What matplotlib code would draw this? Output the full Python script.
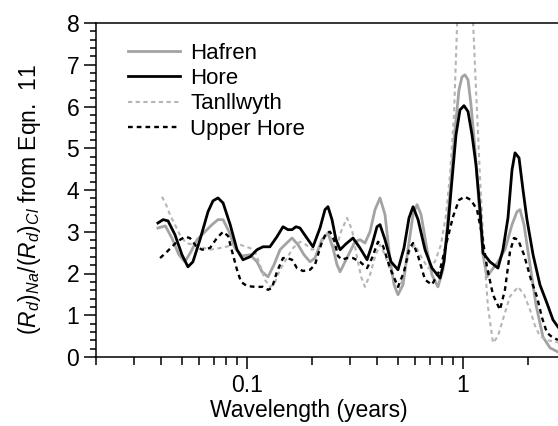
import matplotlib
matplotlib.use("Agg")
import matplotlib.pyplot as plt
from matplotlib.ticker import FixedLocator, NullFormatter

plt.rcParams['font.family'] = ['Liberation Sans', 'DejaVu Sans']
plt.rcParams['mathtext.fontset'] = 'custom'
plt.rcParams['mathtext.rm'] = 'Liberation Sans'
plt.rcParams['mathtext.it'] = 'Liberation Sans:italic'

# ---- data ----
hore_x = [0.0387, 0.0409, 0.0431, 0.0464, 0.0500, 0.0533, 0.0562, 0.0606, 0.0660, 0.0696,
          0.0734, 0.0775, 0.0836, 0.0899, 0.0958, 0.1033, 0.1113, 0.1186, 0.1277, 0.1376,
          0.1468, 0.1548, 0.1616, 0.1686, 0.1759, 0.1876, 0.2021, 0.2178, 0.2297, 0.2371,
          0.2475, 0.2582, 0.2698, 0.2873, 0.3096, 0.3336, 0.3597, 0.3793, 0.3998, 0.4128,
          0.4355, 0.4645, 0.5001, 0.5330, 0.5623, 0.5872, 0.6194, 0.6671, 0.7182, 0.7830,
          0.8167, 0.8528, 0.8892, 0.9282, 0.9685, 1.0106, 1.055, 1.101, 1.149, 1.199,
          1.238, 1.334, 1.452, 1.531, 1.615, 1.686, 1.741, 1.817, 1.896, 1.978,
          2.110, 2.271, 2.447, 2.610, 2.753]
hore_y = [3.21, 3.29, 3.26, 2.93, 2.45, 2.16, 2.28, 2.81, 3.48, 3.74,
          3.81, 3.69, 3.17, 2.57, 2.33, 2.40, 2.57, 2.64, 2.64, 2.88,
          3.12, 3.05, 3.05, 3.12, 3.09, 2.88, 2.64, 3.09, 3.53, 3.60,
          3.29, 2.81, 2.57, 2.71, 2.85, 2.61, 2.33, 2.69, 3.12, 3.17,
          2.81, 2.28, 2.09, 2.61, 3.33, 3.60, 3.29, 2.57, 2.13, 1.89,
          2.28, 3.17, 4.24, 5.32, 5.92, 6.02, 5.88, 5.32, 4.60, 3.53,
          2.49, 2.28, 2.13, 2.57, 3.33, 4.48, 4.89, 4.77, 4.00, 3.29,
          2.45, 1.73, 1.29, 0.89, 0.72]

hafren_x = [0.0387, 0.0419, 0.0449, 0.0484, 0.0516, 0.0550, 0.0587, 0.0639, 0.0689, 0.0734,
            0.0775, 0.0826, 0.0880, 0.0948, 0.1033, 0.1113, 0.1174, 0.1251, 0.1334, 0.1422,
            0.1500, 0.1616, 0.1722, 0.1836, 0.1958, 0.2064, 0.2224, 0.2371, 0.2501, 0.2611,
            0.2698, 0.2843, 0.2998, 0.3162, 0.3336, 0.3516, 0.3711, 0.3915, 0.4128, 0.4355,
            0.4594, 0.4797, 0.5001, 0.5275, 0.5561, 0.5872, 0.6125, 0.6396, 0.6813, 0.7182,
            0.7656, 0.8076, 0.8432, 0.8799, 0.9182, 0.9583, 0.9894, 1.021, 1.055, 1.089,
            1.137, 1.186, 1.238, 1.291, 1.362, 1.452, 1.564, 1.686, 1.778, 1.836,
            1.916, 2.043, 2.177, 2.345, 2.528, 2.753]
hafren_y = [3.09, 3.14, 2.85, 2.45, 2.28, 2.52, 2.81, 3.00, 3.17, 3.29,
            3.29, 3.00, 2.61, 2.42, 2.45, 2.28, 2.04, 1.92, 2.21, 2.57,
            2.69, 2.85, 2.69, 2.45, 2.28, 2.37, 2.81, 2.97, 2.61, 2.21,
            2.04, 2.28, 2.52, 2.76, 2.81, 2.73, 3.00, 3.53, 3.81, 3.41,
            2.33, 1.73, 1.49, 1.73, 2.57, 3.41, 3.65, 3.41, 2.57, 1.97,
            1.68, 2.09, 3.05, 4.24, 5.44, 6.40, 6.71, 6.76, 6.64, 6.04,
            4.96, 3.65, 2.45, 1.92, 2.09, 2.28, 2.57, 3.17, 3.48, 3.53,
            3.17, 2.21, 1.25, 0.48, 0.22, 0.12]

tan_x = [0.0404, 0.0422, 0.0440, 0.0464, 0.0489, 0.0522, 0.0562, 0.0606, 0.0674, 0.0750,
         0.0834, 0.0928, 0.1033, 0.1089, 0.1148, 0.1211, 0.1277, 0.1334, 0.1422, 0.1532,
         0.1633, 0.1759, 0.1876, 0.1999, 0.2133, 0.2272, 0.2371, 0.2475, 0.2582, 0.2723,
         0.2904, 0.3062, 0.3229, 0.3374, 0.3516, 0.3711, 0.3915, 0.4128, 0.4355, 0.4594,
         0.4844, 0.5106, 0.5385, 0.5684, 0.5997, 0.6324, 0.6887, 0.7413, 0.7910, 0.8345,
         0.8707, 0.9085, 0.9481, 0.9894, 1.021, 1.055, 1.101, 1.149, 1.199, 1.251,
         1.305, 1.377, 1.452, 1.531, 1.650, 1.798, 1.916, 2.043, 2.154, 2.271,
         2.475, 2.753]
tan_y = [3.84, 3.65, 3.41, 3.17, 2.93, 2.73, 2.69, 2.64, 2.57, 2.61,
         2.66, 2.69, 2.61, 2.52, 2.21, 1.85, 1.68, 1.73, 2.09, 2.37,
         2.61, 2.76, 2.69, 2.57, 2.61, 2.85, 2.97, 2.81, 2.57, 3.00,
         3.33, 3.05, 2.40, 1.92, 1.68, 1.97, 2.40, 2.69, 2.45, 2.09,
         1.80, 1.65, 2.09, 2.57, 2.69, 2.45, 2.13, 2.28, 2.69, 3.41,
         4.36, 5.80, 8.60, 10.2, 10.6, 10.2, 8.60, 6.40, 4.30, 2.50,
         1.20, 0.34, 0.50, 0.90, 1.45, 1.68, 1.50, 1.13, 0.75, 0.50,
         0.40, 0.35]

upper_x = [0.0396, 0.0426, 0.0474, 0.0516, 0.0544, 0.0581, 0.0619, 0.0674, 0.0726, 0.0775,
           0.0817, 0.0861, 0.0899, 0.0938, 0.1000, 0.1089, 0.1186, 0.1251, 0.1305, 0.1376,
           0.1468, 0.1532, 0.1616, 0.1703, 0.1816, 0.1958, 0.2064, 0.2202, 0.2322, 0.2423,
           0.2528, 0.2637, 0.2753, 0.2904, 0.3096, 0.3336, 0.3597, 0.3793, 0.4041, 0.4262,
           0.4594, 0.5001, 0.5330, 0.5623, 0.5872, 0.6194, 0.6671, 0.7182, 0.7830, 0.8345,
           0.8990, 0.9583, 1.021, 1.089, 1.161, 1.224, 1.291, 1.377, 1.483, 1.564,
           1.650, 1.722, 1.798, 1.916, 2.065, 2.201, 2.322, 2.447, 2.610, 2.753]
upper_y = [2.37, 2.52, 2.76, 2.88, 2.85, 2.66, 2.57, 2.61, 2.85, 3.00,
           2.90, 2.45, 2.09, 1.80, 1.70, 1.68, 1.68, 1.61, 1.65, 2.04,
           2.37, 2.37, 2.33, 2.13, 2.06, 2.09, 2.21, 2.69, 2.97, 3.00,
           2.81, 2.42, 2.33, 2.37, 2.37, 2.28, 2.13, 2.37, 2.76, 2.66,
           2.13, 1.68, 2.04, 2.57, 2.73, 2.42, 1.85, 1.73, 2.09, 2.69,
           3.36, 3.76, 3.84, 3.76, 3.53, 2.93, 2.16, 1.49, 1.13, 1.61,
           2.52, 2.85, 2.81, 2.45, 1.85, 1.44, 0.94, 0.58, 0.46, 0.41]

labels = ["Hafren", "Hore", "Tanllwyth", "Upper Hore"]
x_major = [0.1, 1]
x_major_labels = ["0.1", "1"]
x_minor = [0.02, 0.03, 0.04, 0.05, 0.06, 0.07, 0.08, 0.09,
           0.2, 0.3, 0.4, 0.5, 0.6, 0.7, 0.8, 0.9, 2]

# ---- figure ----
fig = plt.figure(figsize=(5.58, 4.26), dpi=100)
ax = fig.add_axes([96/558, 69/426, 1 - 96/558, 334/426])

grey = "#a3a3a3"
lgrey = "#b5b5b5"
dash = (0, (2.0, 1.7))

ax.plot(hafren_x, hafren_y, color=grey, lw=2.0, label=labels[0], zorder=2,
        solid_joinstyle="round")
ax.plot(tan_x, tan_y, color=lgrey, lw=1.5, ls=dash, label=labels[2], zorder=2)
ax.plot(upper_x, upper_y, color="black", lw=1.7, ls=dash, label=labels[3], zorder=3)
ax.plot(hore_x, hore_y, color="black", lw=2.0, label=labels[1], zorder=4,
        solid_joinstyle="round")

ax.set_xscale("log")
ax.set_xlim(0.02, 2.753)
ax.set_ylim(0, 8)

ax.xaxis.set_major_locator(FixedLocator(x_major))
ax.set_xticklabels(x_major_labels)
ax.xaxis.set_minor_locator(FixedLocator(x_minor))
ax.xaxis.set_minor_formatter(NullFormatter())
ax.set_yticks(range(0, 9))
ax.set_yticks([i * 0.2 for i in range(41)], minor=True)

for s in ["left", "bottom", "top"]:
    ax.spines[s].set_linewidth(1.1)
ax.spines["right"].set_visible(False)

ax.tick_params(axis="both", which="major", direction="out", width=1.1,
               labelsize=16.5, top=False, right=False)
ax.tick_params(axis="x", which="major", length=8.5, pad=4)
ax.tick_params(axis="x", which="minor", length=5.5, width=1.1, top=False)
ax.tick_params(axis="y", which="major", length=9, pad=3)
ax.tick_params(axis="y", which="minor", length=4.5, width=1.1, right=False)

handles, labs = ax.get_legend_handles_labels()
order = [labs.index(l) for l in labels]
ax.legend([handles[i] for i in order], [labs[i] for i in order],
          loc="upper left", bbox_to_anchor=((128 - 96) / 462, 0.94),
          frameon=False, fontsize=16, handlelength=2.35, handletextpad=0.45,
          labelspacing=0.19, borderpad=0, borderaxespad=0)

fig.text(309 / 558, 1 - 410 / 426, "Wavelength (years)", ha="center", va="center",
         fontsize=16.5)
fig.text(30 / 558, 1 - 200 / 426,
         r"$(R_{d})_{Na}/(R_{d})_{Cl}$ from Eqn.  11",
         rotation=90, ha="center", va="center", fontsize=16.5)

fig.savefig("out.png", dpi=100)
